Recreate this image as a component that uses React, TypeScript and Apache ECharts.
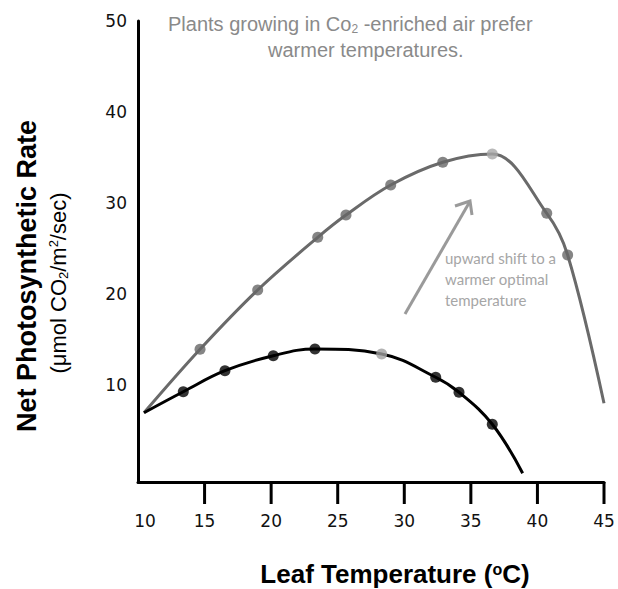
import React, { useEffect, useRef } from 'react';
import * as echarts from 'echarts';

// Axis ticks / labels
const xLabelValues = [10, 15, 20, 25, 30, 35, 40, 45];
const xTickMarks = [15, 20, 25, 30, 35, 40, 45];
const yLabelValues = [10, 20, 30, 40, 50];

// CO2-enriched air (upper, gray curve) — measured dots
const enrichedX = [14.66, 18.99, 23.5, 25.62, 28.98, 32.89, 36.61, 40.7, 42.27];
const enrichedY = [13.9, 20.42, 26.21, 28.66, 31.96, 34.46, 35.37, 28.85, 24.27];
const enrichedStart = [10.45, 6.92];
const enrichedEnd = [45.0, 7.96];
const enrichedOptimumIndex = 6;

// Ambient air (lower, black curve) — measured dots
const ambientX = [13.4, 16.53, 20.16, 23.29, 28.3, 32.36, 34.11, 36.61];
const ambientY = [9.23, 11.54, 13.19, 13.93, 13.38, 10.82, 9.17, 5.65];
const ambientStart = [10.45, 6.92];
const ambientEnd = [38.89, 0.26];
const ambientOptimumIndex = 4;

const SANS = '"Liberation Sans", Arial, Helvetica, sans-serif';

export default function App() {
  const ref = useRef<HTMLDivElement>(null);

  useEffect(() => {
    document.body.style.margin = '0';
    const chart = echarts.init(ref.current as HTMLDivElement, null, { renderer: 'svg' });

    const zip = (xs: number[], ys: number[]) => xs.map((x, i) => [x, ys[i]]);
    const enrichedDots = zip(enrichedX, enrichedY);
    const ambientDots = zip(ambientX, ambientY);
    const enrichedCurve = [enrichedStart, ...enrichedDots, enrichedEnd];
    const ambientCurve = [ambientStart, ...ambientDots, ambientEnd];

    const xMin = 10;
    const xMax = 45;
    const yMin = -0.7;
    const gridLeft = 138;
    const gridTop = 21;
    const gridWidth = 466;
    const gridHeight = 461;
    const axisLineStyle = { color: '#000', width: 3 };
    const labelStyle = { fontSize: 17, fontFamily: '"DejaVu Sans", sans-serif', color: '#111' };

    // outward tick marks below the x axis, drawn as thin filled rects
    const axisY = gridTop + gridHeight;
    const tickMarks = xTickMarks.map((v) => {
      const px = gridLeft + ((v - xMin) / (xMax - xMin)) * gridWidth;
      return {
        type: 'rect',
        shape: { x: px - 1.5, y: axisY, width: 3, height: 22 },
        style: { fill: '#000' },
        z: 100,
      };
    });

    const annotations: any[] = [
      {
        type: 'text',
        x: 168,
        y: 24,
        style: {
          text: 'Plants growing in Co{sub|2} -enriched air prefer',
          fill: '#8a8a8a',
          font: `20px ${SANS}`,
          verticalAlign: 'middle',
          rich: { sub: { fontSize: 12, fontFamily: 'Liberation Sans', fill: '#8a8a8a', padding: [10, 0, 0, 0] } },
        },
      },
      {
        type: 'text',
        x: 268,
        y: 50,
        style: { text: 'warmer temperatures.', fill: '#8a8a8a', font: `20px ${SANS}`, verticalAlign: 'middle' },
      },
      {
        type: 'text',
        x: 445,
        y: 258,
        style: { text: 'upward shift to a', fill: '#a6a6a6', font: '15px Lato, sans-serif', verticalAlign: 'middle' },
      },
      {
        type: 'text',
        x: 445,
        y: 279,
        style: { text: 'warmer optimal', fill: '#a6a6a6', font: '15px Lato, sans-serif', verticalAlign: 'middle' },
      },
      {
        type: 'text',
        x: 445,
        y: 300,
        style: { text: 'temperature', fill: '#a6a6a6', font: '15px Lato, sans-serif', verticalAlign: 'middle' },
      },
      {
        type: 'line',
        shape: { x1: 405, y1: 314, x2: 469, y2: 203 },
        style: { stroke: '#9a9a9a', lineWidth: 3 },
      },
      {
        type: 'polyline',
        shape: { points: [[455, 206], [470, 201], [472, 215]] },
        style: { stroke: '#9a9a9a', lineWidth: 3, fill: 'none' },
      },
      {
        type: 'text',
        x: 395,
        y: 574,
        style: {
          text: 'Leaf Temperature ({sup|o}C)',
          fill: '#000',
          font: `bold 26px ${SANS}`,
          align: 'center',
          verticalAlign: 'middle',
          rich: { sup: { fontSize: 16, fontWeight: 'bold', fontFamily: 'Liberation Sans', fill: '#000', padding: [0, 0, 10, 0] } },
        },
      },
      {
        type: 'text',
        x: 27,
        y: 276,
        rotation: Math.PI / 2,
        style: {
          text: 'Net Photosynthetic Rate',
          fill: '#000',
          font: `bold 27px ${SANS}`,
          align: 'center',
          verticalAlign: 'middle',
        },
      },
      {
        type: 'text',
        x: 58,
        y: 283,
        rotation: Math.PI / 2,
        style: {
          text: '(\u03bcmol CO{sub|2}/m{sup|2}/sec)',
          fill: '#000',
          font: `22px ${SANS}`,
          align: 'center',
          verticalAlign: 'middle',
          rich: {
            sub: { fontSize: 13, fontFamily: 'Liberation Sans', fill: '#000', padding: [10, 0, 0, 0] },
            sup: { fontSize: 13, fontFamily: 'Liberation Sans', fill: '#000', padding: [0, 0, 10, 0] },
          },
        },
      },
    ];

    chart.setOption({
      animation: false,
      grid: { left: gridLeft, top: gridTop, width: gridWidth, height: gridHeight },
      xAxis: {
        type: 'value',
        min: xMin,
        max: xMax,
        interval: 5,
        axisLine: { show: true, onZero: false, lineStyle: axisLineStyle },
        axisTick: { show: false },
        axisLabel: {
          ...labelStyle,
          customValues: xLabelValues,
          margin: 30,
          formatter: (v: number) => (v === xMin ? `{first|${v}}` : `${v}`),
          rich: { first: { ...labelStyle, padding: [0, 0, 0, 14] } },
        },
        splitLine: { show: false },
      },
      yAxis: {
        type: 'value',
        min: yMin,
        max: 50,
        axisLine: { show: true, onZero: false, lineStyle: axisLineStyle },
        axisTick: { show: false },
        axisLabel: { ...labelStyle, customValues: yLabelValues, margin: 11 },
        splitLine: { show: false },
      },
      series: [
        {
          type: 'line',
          data: enrichedCurve,
          smooth: 0.35,
          symbol: 'none',
          lineStyle: { color: '#6a6a6a', width: 3 },
          z: 2,
        },
        {
          type: 'line',
          data: ambientCurve,
          smooth: 0.4,
          symbol: 'none',
          lineStyle: { color: '#000', width: 3 },
          z: 3,
        },
        {
          type: 'scatter',
          data: enrichedDots.map((v, i) => ({
            value: v,
            itemStyle: { color: i === enrichedOptimumIndex ? '#a8a8a8' : '#666666' },
          })),
          symbolSize: 11,
          z: 4,
        },
        {
          type: 'scatter',
          data: ambientDots.map((v, i) => ({
            value: v,
            itemStyle: { color: i === ambientOptimumIndex ? '#a0a0a0' : '#000' },
          })),
          symbolSize: 11,
          z: 5,
        },
      ],
      graphic: [...annotations, ...tickMarks],
    });

    return () => chart.dispose();
  }, []);

  return <div ref={ref} style={{ width: 618, height: 589 }} />;
}
